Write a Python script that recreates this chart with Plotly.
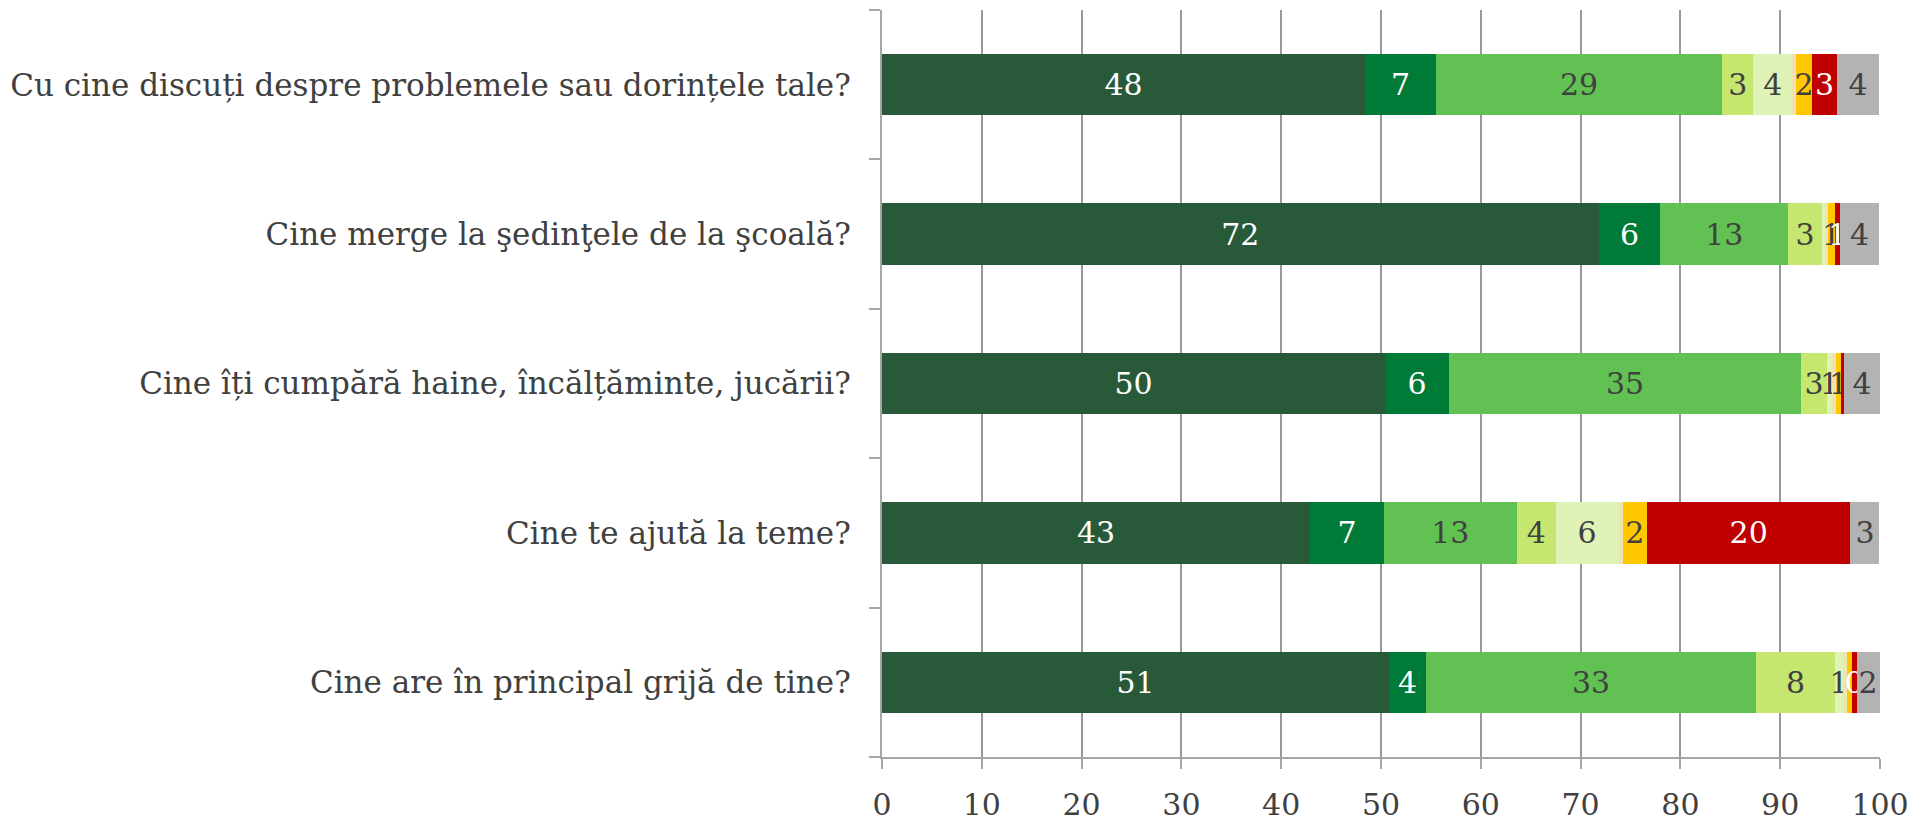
import plotly.graph_objects as go

categories = [
    "Cu cine discuți despre problemele sau dorințele tale?",
    "Cine merge la şedinţele de la şcoală?",
    "Cine îți cumpără haine, încălțăminte, jucării?",
    "Cine te ajută la teme?",
    "Cine are în principal grijă de tine?",
]

# nine stacked series (values in %, per category, top to bottom)
s1 = [48.4, 71.8, 50.4, 42.9, 50.8]
s2 = [7.1, 6.2, 6.4, 7.4, 3.7]
s3 = [28.7, 12.8, 35.3, 13.3, 33.1]
s4 = [3.1, 3.4, 2.6, 3.9, 7.9]
s5 = [3.9, 0.3, 0.5, 6.3, 0.8]
s6 = [0.4, 0.3, 0.4, 0.44, 0.43]
s7 = [1.6, 0.7, 0.5, 2.4, 0.44]
s8 = [2.5, 0.5, 0.3, 20.4, 0.49]
s9 = [4.2, 3.9, 3.6, 2.9, 2.3]

series = [s1, s2, s3, s4, s5, s6, s7, s8, s9]
names = ["Seria 1", "Seria 2", "Seria 3", "Seria 4", "Seria 5",
         "Seria 6", "Seria 7", "Seria 8", "Seria 9"]
colors = ["#285A39", "#007A37", "#61C153", "#C5E66F", "#E0F3B7",
          "#EFE3B2", "#FFC800", "#C00000", "#B3B3B3"]
text_colors = ["#FFFFFF", "#FFFFFF", "#404040", "#404040", "#404040",
               "#404040", "#404040", "#FFFFFF", "#404040"]

FONT = "Georgia, 'DejaVu Serif', serif"

fig = go.Figure()
for vals, name, col, tcol in zip(series, names, colors, text_colors):
    labels = [str(int(v + 0.5)) if v >= 0.45 else "" for v in vals]
    fig.add_trace(go.Bar(
        y=categories, x=vals, name=name, orientation="h",
        marker=dict(color=col, line=dict(width=0)),
        text=labels, textposition="inside", insidetextanchor="middle",
        constraintext="none", cliponaxis=False,
        textfont=dict(family=FONT, size=30, color=tcol),
        hoverinfo="x+y+name",
    ))

fig.update_layout(
    barmode="stack",
    bargap=0.59,
    width=1913, height=824,
    margin=dict(l=882, r=33, t=10, b=67, autoexpand=False),
    paper_bgcolor="white", plot_bgcolor="white",
    showlegend=False,
    uniformtext=dict(mode="show", minsize=30),
    font=dict(family=FONT, color="#404040", size=30),
)
fig.update_xaxes(
    range=[0, 100], tickvals=[0, 10, 20, 30, 40, 50, 60, 70, 80, 90, 100],
    showgrid=True, gridcolor="#999999", gridwidth=2,
    showline=True, linecolor="#A6A6A6", linewidth=2,
    ticks="outside", ticklen=10, tickwidth=2, tickcolor="#A6A6A6",
    ticklabelstandoff=10,
    tickfont=dict(family=FONT, size=30, color="#404040"),
    zeroline=False, fixedrange=True, automargin=False,
)
fig.update_yaxes(
    categoryorder="array", categoryarray=categories[::-1],
    showline=True, linecolor="#A6A6A6", linewidth=2,
    ticks="outside", ticklen=11, tickwidth=2, tickcolor="#A6A6A6",
    tickson="boundaries", showgrid=False,
    ticklabelstandoff=23,
    tickfont=dict(family=FONT, size=31, color="#404040"),
    fixedrange=True, automargin=False,
)

fig.write_html("out.html", config={"displayModeBar": False},
               post_script="document.body.style.margin='0';document.body.style.overflow='hidden';")
